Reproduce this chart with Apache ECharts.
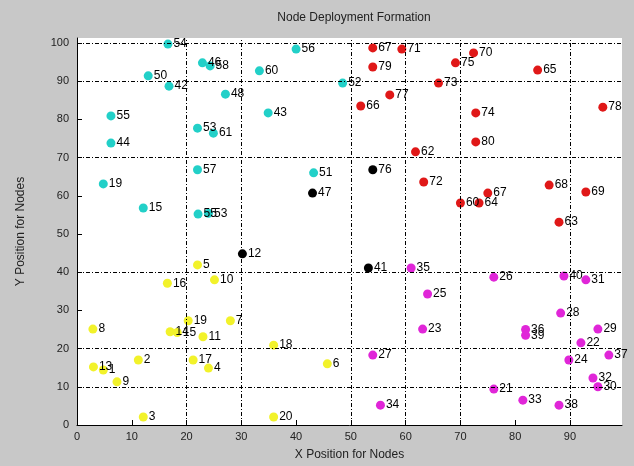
<!DOCTYPE html>
<html><head><meta charset="utf-8">
<script src="https://cdn.jsdelivr.net/npm/echarts@6/dist/echarts.min.js"></script>
<style>html,body{margin:0;padding:0;background:#c8c8c8;}#c{width:634px;height:466px;}</style>
</head><body><div id="c"></div>
<script>
const titleText = 'Node Deployment Formation';
const xLabelText = 'X Position for Nodes';
const yLabelText = 'Y Position for Nodes';
const xTicks = [0,10,20,30,40,50,60,70,80,90];
const yTicks = [0,10,20,30,40,50,60,70,80,90,100];
const gridX = [20,30,50,60,70,90];
const gridY = [10,20,40,70,90,100];

// cyan nodes
const cyanX = [16.6,13.0,16.8,22.9,24.3,33.3,40.0,27.1,6.2,6.2,34.9,22.0,24.9,48.5,22.0,4.8,12.1,22.1,24.0,43.2];
const cyanY = [99.7,91.4,88.7,94.8,94.0,92.7,98.4,86.6,80.9,73.8,81.7,77.7,76.4,89.5,66.8,63.1,56.8,55.2,55.4,66.0];
const cyanL = ['54','50','42','46','58','60','56','48','55','44','43','53','61','52','57','19','15','55','53','51'];
// red nodes
const redX = [54.0,59.3,54.0,72.4,69.1,66.0,57.1,51.8,72.8,84.1,96.0,72.8,61.8,63.3,75.0,70.0,73.4,86.2,92.9,88.0];
const redY = [98.7,98.4,93.7,97.4,94.8,89.5,86.4,83.5,81.7,92.9,83.2,74.1,71.5,63.6,60.7,58.1,58.1,62.8,61.0,53.1];
const redL = ['67','71','79','70','75','73','77','66','74','65','78','80','62','72','67','60','64','68','69','63'];
// black nodes
const blackX = [43.0,30.2,53.2,54.0];
const blackY = [60.7,44.8,41.1,66.8];
const blackL = ['47','12','41','76'];
// yellow nodes
const yellowX = [22.0,16.5,25.1,2.9,20.3,17.0,18.3,23.0,28.0,11.2,21.2,24.0,3.0,4.8,7.3,12.1,35.9,45.7,35.9];
const yellowY = [41.9,37.1,38.0,25.1,27.3,24.4,24.2,23.1,27.3,17.0,17.0,14.9,15.2,14.4,11.3,2.1,20.9,16.0,2.1];
const yellowL = ['5','16','10','8','19','14','15','11','7','2','17','4','13','1','9','3','18','6','20'];
// magenta nodes
const magX = [61.0,64.0,76.1,88.9,92.9,88.3,81.9,81.9,95.1,92.0,89.8,97.1,94.2,95.1,76.1,81.4,88.0,63.1,54.0,55.4];
const magY = [41.1,34.3,38.7,39.0,38.0,29.3,25.0,23.5,25.1,21.5,17.0,18.3,12.3,10.0,9.4,6.5,5.2,25.1,18.3,5.2];
const magL = ['35','25','26','40','31','28','36','39','29','22','24','37','32','30','21','33','38','23','27','34'];

function pts(xs, ys, ls){ return xs.map((x,i)=>[x, ys[i], ls[i]]); }
function ser(name, xs, ys, ls, color){
  return {
    name, type:'scatter', symbol:'circle', symbolSize:9,
    itemStyle:{color:color, opacity:1},
    data: pts(xs, ys, ls),
    label:{show:true, position:'right', distance:1, formatter:p=>p.value[2],
      color:'#000', fontSize:12, fontFamily:'Liberation Sans, Arial, sans-serif'},
    z:3
  };
}
const chart = echarts.init(document.getElementById('c'));
const font = 'Liberation Sans, Arial, sans-serif';
chart.setOption({
  backgroundColor:'#c8c8c8',
  animation:false,
  title:{text:titleText, left:349, textAlign:'center', top:7,
    textStyle:{fontSize:12, fontWeight:'normal', color:'#222', fontFamily:font}},
  grid:{left:77, right:12, top:38, bottom:41, show:true, backgroundColor:'#ffffff', borderWidth:0},
  xAxis:{type:'value', min:0, max:99.5,
    name:xLabelText, nameLocation:'middle', nameGap:24,
    nameTextStyle:{fontSize:12, color:'#222', fontFamily:font},
    axisLine:{show:true, onZero:false, lineStyle:{color:'#000', width:1}},
    axisTick:{show:true, inside:true, length:5, customValues:xTicks, lineStyle:{color:'#000'}},
    axisLabel:{customValues:xTicks, fontSize:11, color:'#222', margin:6, fontFamily:font},
    splitLine:{show:false}},
  yAxis:{type:'value', min:0, max:101.3,
    name:yLabelText, nameLocation:'middle', nameGap:50,
    nameTextStyle:{fontSize:12, color:'#222', fontFamily:font},
    axisLine:{show:true, onZero:false, lineStyle:{color:'#000', width:1}},
    axisTick:{show:true, inside:true, length:5, customValues:yTicks, lineStyle:{color:'#000'}},
    axisLabel:{customValues:yTicks, fontSize:11, color:'#222', margin:8, fontFamily:font},
    splitLine:{show:false}},
  series:[
    {type:'scatter', data:[], silent:true, z:1,
      markLine:{silent:true, symbol:'none', label:{show:false},
        lineStyle:{color:'#000', type:[4,2,1,2], width:1},
        data: gridX.map(v=>({xAxis:v})).concat(gridY.map(v=>({yAxis:v})))}},
    ser('cyan', cyanX, cyanY, cyanL, '#22d0c8'),
    ser('red', redX, redY, redL, '#e01818'),
    ser('black', blackX, blackY, blackL, '#000000'),
    ser('yellow', yellowX, yellowY, yellowL, '#f2f22a'),
    ser('magenta', magX, magY, magL, '#e026d8')
  ]
});
</script></body></html>
